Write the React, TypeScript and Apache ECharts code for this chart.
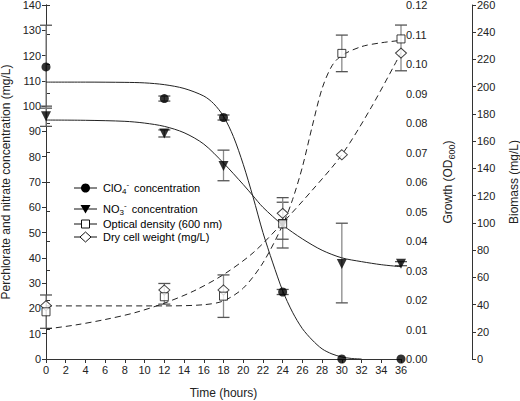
import React, { useEffect, useRef } from "react";
import * as echarts from "echarts";

const hours = [0, 12, 18, 24, 30, 36];
const clo4 = [115.5, 103, 95.5, 26.5, 0, 0];
const clo4Err = [[99.2, 132], [102, 104], [94.5, 96.5], [25.5, 27.5], null, null];
const no3 = [96, 89.2, 76.3, 53.4, 37.6, 37.7];
const no3Err = [[92, 100], [87.8, 90.6], [70.5, 82.6], [43.9, 62], [22.2, 53.7], [36.9, 38.5]];
const od = [0.016, 0.0211, 0.0213, 0.0458, 0.1036, 0.1085];
const odErr = [[0.0104, 0.0217], [0.0186, 0.0256], [0.0141, 0.0285], [0.0406, 0.0547], [0.0974, 0.1098], [0.0977, 0.1132]];
const dcw = [39.2, 50.7, 50.7, 107, 150, 224.7];

const clo4FitT = [0, 4, 8, 10, 12, 14, 16, 17, 18, 19, 20, 21, 22, 23, 24, 25, 26, 27, 28, 29, 30, 31, 32];
const clo4Fit = [109.5, 109.5, 109.4, 109.2, 108.5, 107, 104, 101, 96, 88, 77, 64, 50, 38, 27, 18.5, 12, 7.5, 4, 2, 0.8, 0.2, 0];
const no3FitT = [0, 4, 8, 10, 12, 14, 16, 18, 20, 21, 22, 24, 26, 28, 30, 32, 34, 36];
const no3Fit = [94.5, 94.4, 94, 93.3, 92, 89.5, 85, 77.5, 69, 64.5, 60, 53, 47.5, 43, 40, 38.5, 37.3, 36.5];
const odFitT = [0, 12, 16, 18, 20, 22, 24, 25, 26, 27, 28, 29, 30, 32, 34, 36];
const odFit = [0.018, 0.018, 0.0184, 0.0197, 0.024, 0.0326, 0.0454, 0.054, 0.0651, 0.0789, 0.0917, 0.0994, 0.1029, 0.1059, 0.1072, 0.108];
const dcwFitT = [0, 3, 6, 9, 12, 15, 18, 21, 24, 27, 30, 33, 36];
const dcwFit = [22, 25, 29, 34, 41, 50, 62, 78, 100, 124, 150, 185, 225];

const FONT = "'Liberation Sans', Arial, sans-serif";
const AX = "#333";

const zip = (xs: number[], ys: number[]) => xs.map((x, i) => [x, ys[i]]);
const errData = (errs: (number[] | null)[]) =>
  hours.map((t, i) => (errs[i] ? [t, errs[i]![0], errs[i]![1]] : null)).filter(Boolean);

const errSeries = (errs: (number[] | null)[], yAxisIndex: number) => ({
  type: "custom",
  yAxisIndex,
  data: errData(errs),
  encode: { x: 0, y: [1, 2] },
  z: 1,
  renderItem: (_p: any, api: any) => {
    const t = api.value(0);
    const lo = api.coord([t, api.value(1)]);
    const hi = api.coord([t, api.value(2)]);
    const w = 6;
    return {
      type: "group",
      children: [
        { type: "line", shape: { x1: lo[0], y1: lo[1], x2: hi[0], y2: hi[1] }, style: { stroke: "#8a8a8a", lineWidth: 1.3 } },
        { type: "line", shape: { x1: lo[0] - w, y1: lo[1], x2: lo[0] + w, y2: lo[1] }, style: { stroke: "#555", lineWidth: 1.3 } },
        { type: "line", shape: { x1: hi[0] - w, y1: hi[1], x2: hi[0] + w, y2: hi[1] }, style: { stroke: "#555", lineWidth: 1.3 } },
      ],
    };
  },
});

const axisCommon = {
  axisLine: { show: true, lineStyle: { color: AX, width: 1 } },
  axisTick: { show: true, inside: false, length: 4, lineStyle: { color: AX } },
  splitLine: { show: false },
  axisLabel: { color: "#222", fontSize: 11, fontFamily: FONT, margin: 5 },
  nameLocation: "middle" as const,
  nameTextStyle: { color: "#222", fontSize: 12, fontFamily: FONT },
};

export default function App() {
  const ref = useRef<HTMLDivElement>(null);
  useEffect(() => {
    if (!ref.current) return;
    const chart = echarts.init(ref.current, undefined, { renderer: "svg" });
    const legendRows = [
      { y: 188, sym: "circle", text: "{n|ClO}{sub|4}{sup|-}{n| concentration}" },
      { y: 209, sym: "triangle", text: "{n|NO}{sub|3}{sup|-}{n| concentration}" },
      { y: 224, sym: "rect", text: "{n|Optical density (600 nm)}" },
      { y: 237, sym: "diamond", text: "{n|Dry cell weight (mg/L)}" },
    ];
    const rich = {
      n: { fontSize: 11, fontFamily: FONT, color: "#222", lineHeight: 15, verticalAlign: "middle" },
      sub: { fontSize: 8, fontFamily: FONT, color: "#222", lineHeight: 15, verticalAlign: "bottom" },
      sup: { fontSize: 8, fontFamily: FONT, color: "#222", lineHeight: 15, verticalAlign: "top", padding: [0, 2, 0, 0] },
    };
    const legendGraphics: any[] = [];
    legendRows.forEach((r) => {
      legendGraphics.push({ type: "line", shape: { x1: 74, y1: r.y, x2: 97, y2: r.y }, style: { stroke: "#111", lineWidth: 1 } });
      const cx = 85.5;
      if (r.sym === "circle") legendGraphics.push({ type: "circle", shape: { cx, cy: r.y, r: 4.5 }, style: { fill: "#000" } });
      if (r.sym === "triangle") legendGraphics.push({ type: "polygon", shape: { points: [[cx - 5, r.y - 4], [cx + 5, r.y - 4], [cx, r.y + 4.5]] }, style: { fill: "#000" } });
      if (r.sym === "rect") legendGraphics.push({ type: "rect", shape: { x: cx - 4, y: r.y - 4, width: 8, height: 8 }, style: { fill: "#fff", stroke: "#111", lineWidth: 1 } });
      if (r.sym === "diamond") legendGraphics.push({ type: "polygon", shape: { points: [[cx, r.y - 5], [cx + 5.5, r.y], [cx, r.y + 5], [cx - 5.5, r.y]] }, style: { fill: "#fff", stroke: "#111", lineWidth: 1 } });
      legendGraphics.push({ type: "text", x: 103, y: r.y, style: { text: r.text, rich, verticalAlign: "middle", align: "left" } });
    });

    chart.setOption({
      animation: false,
      backgroundColor: "#fff",
      grid: { left: 46, right: 119, top: 5, bottom: 42, outerBoundsMode: "none", containLabel: false },
      xAxis: [
        {
          ...axisCommon,
          type: "value",
          min: 0,
          max: 36,
          interval: 2,
          name: "Time (hours)",
          nameGap: 28,
        },
        {
          type: "value",
          position: "top",
          min: 0,
          max: 36,
          axisLine: { show: true, lineStyle: { color: AX } },
          axisTick: { show: false },
          axisLabel: { show: false },
          splitLine: { show: false },
        },
      ],
      yAxis: [
        {
          ...axisCommon,
          type: "value",
          min: 0,
          max: 140,
          interval: 10,
          name: "Perchlorate and nitrate concentration (mg/L)",
          nameGap: 25,
          nameRotate: 90,
        },
        {
          ...axisCommon,
          type: "value",
          position: "right",
          min: 0,
          max: 0.12,
          interval: 0.01,
          axisLabel: { ...axisCommon.axisLabel, formatter: (v: number) => v.toFixed(2) },
          name: "{a|Growth (OD}{s|600}{a|)}",
          nameGap: 39,
          nameRotate: 90,
          nameTextStyle: {
            ...axisCommon.nameTextStyle,
            rich: {
              a: { fontSize: 12, fontFamily: FONT, color: "#222", lineHeight: 16, verticalAlign: "middle" },
              s: { fontSize: 9, fontFamily: FONT, color: "#222", lineHeight: 16, verticalAlign: "bottom" },
            },
          },
        },
        {
          ...axisCommon,
          type: "value",
          position: "right",
          offset: 71,
          min: 0,
          max: 260,
          interval: 20,
          name: "Biomass (mg/L)",
          nameGap: 36,
          nameRotate: 90,
        },
      ],
      graphic: legendGraphics,
      series: [
        errSeries(clo4Err, 0),
        errSeries(no3Err, 0),
        errSeries(odErr, 1),
        {
          type: "line", yAxisIndex: 0, data: zip(clo4FitT, clo4Fit), smooth: 0.3, showSymbol: false, z: 2,
          lineStyle: { color: "#222", width: 1 },
        },
        {
          type: "line", yAxisIndex: 0, data: zip(no3FitT, no3Fit), smooth: 0.3, showSymbol: false, z: 2,
          lineStyle: { color: "#222", width: 1 },
        },
        {
          type: "line", yAxisIndex: 1, data: zip(odFitT, odFit), smooth: 0.3, showSymbol: false, z: 2,
          lineStyle: { color: "#222", width: 1, type: [6, 4] },
        },
        {
          type: "line", yAxisIndex: 2, data: zip(dcwFitT, dcwFit), smooth: 0.3, showSymbol: false, z: 2,
          lineStyle: { color: "#222", width: 1, type: [6, 4] },
        },
        {
          type: "scatter", yAxisIndex: 0, data: zip(hours, no3), symbol: "triangle", symbolRotate: 180, symbolSize: 10, z: 3,
          itemStyle: { color: "#000" },
        },
        {
          type: "scatter", yAxisIndex: 0, data: zip(hours, clo4), symbol: "circle", symbolSize: 9, z: 3,
          itemStyle: { color: "#000" },
        },
        {
          type: "scatter", yAxisIndex: 2, data: zip(hours, dcw), symbol: "diamond", symbolSize: [11, 10], z: 4,
          itemStyle: { color: "#fff", borderColor: "#111", borderWidth: 1 },
        },
        {
          type: "scatter", yAxisIndex: 1, data: zip(hours, od), symbol: "rect", symbolSize: 8, z: 5,
          itemStyle: { color: "#fff", borderColor: "#111", borderWidth: 1 },
        },
      ],
    });
    return () => chart.dispose();
  }, []);
  return <div ref={ref} style={{ position: "absolute", left: 0, top: 0, width: 520, height: 401 }} />;
}
